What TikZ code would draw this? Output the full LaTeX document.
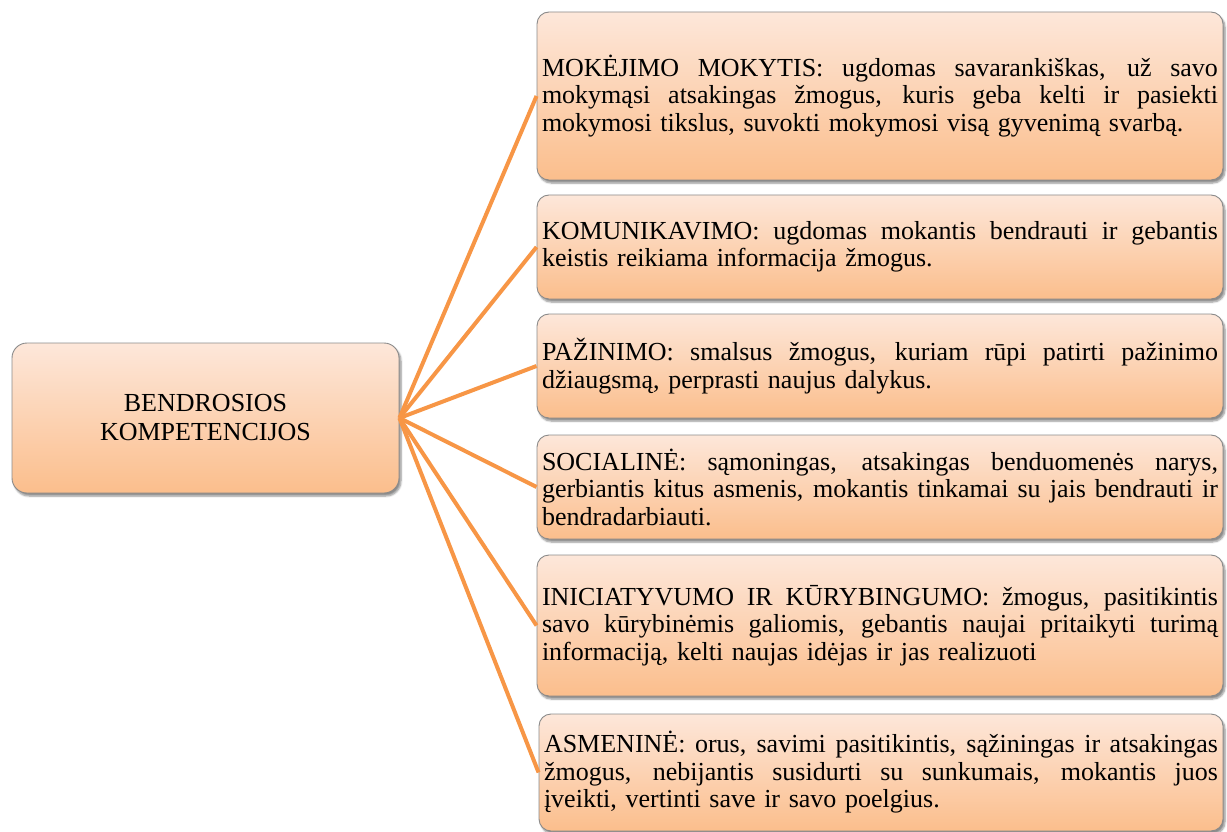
\documentclass[tikz,border=0pt]{standalone}
\usepackage{fontspec}
\setmainfont{Liberation Serif}
\usetikzlibrary{shadows.blur}
\definecolor{boxtop}{HTML}{FDE7DA}
\definecolor{boxbot}{HTML}{FBBE8C}
\definecolor{boxline}{HTML}{8A8A8A}
\definecolor{linkc}{HTML}{F79646}
\newcommand{\jl}[1]{\makebox[\hsize][s]{\spaceskip=0.25em plus 2em minus 0.05em\relax #1}}
\tikzset{
  cbox/.style={draw=boxline, line width=0.9pt, rounded corners=12pt,
    top color=boxtop, bottom color=boxbot,
    blur shadow={shadow xshift=2pt, shadow yshift=-3pt, shadow blur steps=6, shadow opacity=45},
    font=\fontsize{26}{27.5}\selectfont, inner xsep=5pt, inner ysep=0pt},
  rbox/.style={cbox, minimum width=686pt, text width=676pt, align=left},
  link/.style={draw=linkc, line width=4pt}
}
\begin{document}
\begin{tikzpicture}[x=1pt,y=-1pt]
\useasboundingbox (0,0) rectangle (1227,832);
\node[cbox, rounded corners=15pt, minimum width=387pt, minimum height=150pt, align=center, font=\fontsize{26}{29}\selectfont] (L) at (205.5,418) {BENDROSIOS\\KOMPETENCIJOS};
\node[rbox, minimum height=168pt] (B1) at (880,96) {\jl{MOKĖJIMO MOKYTIS: ugdomas savarankiškas, už savo}\\\jl{mokymąsi atsakingas žmogus, kuris geba kelti ir pasiekti}\\mokymosi tikslus, suvokti mokymosi visą gyvenimą svarbą.};
\node[rbox, minimum height=104pt] (B2) at (880,247) {\jl{KOMUNIKAVIMO: ugdomas mokantis bendrauti ir gebantis}\\keistis reikiama informacija žmogus.};
\node[rbox, minimum height=104pt] (B3) at (880,366) {\jl{PAŽINIMO: smalsus žmogus, kuriam rūpi patirti pažinimo}\\džiaugsmą, perprasti naujus dalykus.};
\node[rbox, minimum height=104pt] (B4) at (880,487) {\jl{SOCIALINĖ: sąmoningas, atsakingas benduomenės narys,}\\\jl{gerbiantis kitus asmenis, mokantis tinkamai su jais bendrauti ir}\\bendradarbiauti.};
\node[rbox, minimum height=141pt] (B5) at (880,625.5) {\jl{INICIATYVUMO IR KŪRYBINGUMO: žmogus, pasitikintis}\\\jl{savo kūrybinėmis galiomis, gebantis naujai pritaikyti turimą}\\informaciją, kelti naujas idėjas ir jas realizuoti};
\node[rbox, minimum height=117pt, minimum width=684pt, text width=674pt] (B6) at (881,772.5) {\jl{ASMENINĖ: orus, savimi pasitikintis, sąžiningas ir atsakingas}\\\jl{žmogus, nebijantis susidurti su sunkumais, mokantis juos}\\įveikti, vertinti save ir savo poelgius.};
\foreach \b in {B1,B2,B3,B4,B5,B6} \draw[link] (L.east) -- (\b.west);
\end{tikzpicture}
\end{document}
